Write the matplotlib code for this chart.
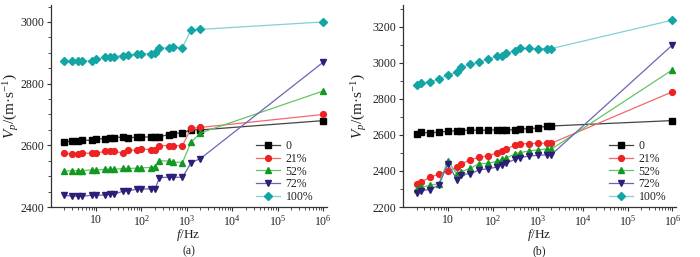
import matplotlib
matplotlib.use("Agg")
import math
import matplotlib.pyplot as plt
from matplotlib.ticker import FixedLocator, FuncFormatter, LogLocator, NullFormatter, MultipleLocator

plt.rcParams['font.family'] = ['Liberation Serif', 'DejaVu Serif']
plt.rcParams['mathtext.fontset'] = 'custom'
plt.rcParams['mathtext.rm'] = 'Liberation Serif'
plt.rcParams['mathtext.it'] = 'Liberation Serif:italic'

# ---------- data: panel (a) ----------
freq_a = [2, 3, 4, 5, 8, 10, 16, 20, 25, 40, 50, 80, 100, 160, 200, 250, 400, 500, 800, 1250, 2000, 1e6]
a_0 = [2610, 2615, 2613, 2617, 2616, 2620, 2622, 2624, 2625, 2627, 2625, 2626, 2627, 2627, 2627, 2628, 2635, 2638, 2641, 2650, 2650, 2680]
a_21 = [2574, 2572, 2571, 2574, 2575, 2575, 2580, 2580, 2580, 2575, 2585, 2584, 2588, 2586, 2586, 2599, 2599, 2599, 2599, 2655, 2658, 2700]
a_52 = [2516, 2518, 2518, 2518, 2520, 2520, 2522, 2523, 2522, 2525, 2525, 2526, 2527, 2528, 2530, 2550, 2549, 2546, 2544, 2611, 2640, 2776]
a_72 = [2438, 2435, 2435, 2435, 2438, 2438, 2439, 2441, 2441, 2452, 2452, 2458, 2458, 2459, 2459, 2495, 2497, 2497, 2496, 2544, 2557, 2869]
a_100 = [2875, 2873, 2874, 2874, 2874, 2880, 2885, 2888, 2888, 2891, 2892, 2895, 2897, 2897, 2899, 2915, 2916, 2918, 2917, 2975, 2976, 3000]

# ---------- data: panel (b) ----------
freq_b = [2, 2.5, 4, 6.3, 10, 16, 20, 31.5, 50, 80, 125, 160, 200, 315, 400, 630, 1000, 1600, 2000, 1e6]
b_0 = [2607, 2615, 2611, 2617, 2620, 2624, 2624, 2628, 2626, 2626, 2630, 2630, 2630, 2628, 2633, 2635, 2639, 2650, 2650, 2680]
b_21 = [2328, 2339, 2365, 2383, 2399, 2422, 2439, 2463, 2476, 2485, 2502, 2513, 2524, 2543, 2552, 2552, 2554, 2554, 2554, 2840]
b_52 = [2300, 2309, 2320, 2330, 2456, 2381, 2396, 2415, 2441, 2443, 2454, 2465, 2472, 2496, 2502, 2511, 2518, 2521, 2521, 2962]
b_72 = [2280, 2291, 2297, 2322, 2440, 2350, 2380, 2385, 2406, 2413, 2422, 2433, 2444, 2465, 2474, 2483, 2487, 2490, 2490, 3100]
b_100 = [2878, 2888, 2897, 2909, 2935, 2948, 2976, 2992, 3006, 3022, 3038, 3041, 3055, 3067, 3081, 3081, 3079, 3080, 3080, 3238]

labels = ["0", "21%", "52%", "72%", "100%"]
markers = ["s", "o", "^", "v", "D"]
marker_colors = ["#000000", "#ee2222", "#119922", "#2b1f78", "#13a5a5"]
line_colors = ["#444444", "#f06a6a", "#66c466", "#6e64b4", "#80d2d2"]
msizes = [4.0, 4.2, 4.8, 4.8, 4.2]

fig = plt.figure(figsize=(7.0, 2.57), dpi=100)

def dec_fmt(v, pos):
    if v <= 0:
        return ""
    n = int(round(math.log10(v)))
    if n == 0:
        return ""
    if n == 1:
        return "10"
    return r"$10^{%d}$" % n

def draw(ax, freq, series, ylim, ymaj, ymin, sub, leg_anchor, ylab_x):
    for s, lab, mk, mc, lc, ms in zip(series, labels, markers, marker_colors, line_colors, msizes):
        ax.plot(freq, s, color=lc, lw=0.9, marker=mk, markersize=ms,
                markerfacecolor=mc, markeredgecolor=mc, label=lab)
    ax.set_xscale("log")
    ax.set_xlim(1, 1.2e6)
    ax.set_ylim(*ylim)
    ax.xaxis.set_major_locator(FixedLocator([1e1, 1e2, 1e3, 1e4, 1e5, 1e6]))
    ax.xaxis.set_major_formatter(FuncFormatter(dec_fmt))
    ax.xaxis.set_minor_locator(LogLocator(base=10, subs=range(2, 10), numticks=20))
    ax.xaxis.set_minor_formatter(NullFormatter())
    ax.yaxis.set_major_locator(MultipleLocator(ymaj))
    ax.yaxis.set_minor_locator(MultipleLocator(ymin))
    for sp in ("top", "right"):
        ax.spines[sp].set_visible(False)
    for sp in ("left", "bottom"):
        ax.spines[sp].set_linewidth(0.9)
        ax.spines[sp].set_color("#333333")
    ax.tick_params(which="major", direction="out", length=3.2, width=0.8, labelsize=8.5,
                   colors="#333333", labelcolor="#222222", pad=1.5)
    ax.tick_params(which="minor", direction="out", length=2, width=0.6, colors="#333333")
    ax.set_xlabel(r"$f$/Hz", fontsize=9.5, color="#222222")
    ax.xaxis.set_label_coords(0.5, -0.14)
    ax.xaxis.label.set_va("center")
    ax.set_ylabel(r"$V_p$/(m·s$^{-1}$)", fontsize=11, color="#222222")
    ax.yaxis.set_label_coords(ylab_x, 0.5)
    ax.yaxis.label.set_va("center")
    ax.text(0.5, -0.218, sub, transform=ax.transAxes, ha="center", va="center",
            fontsize=8.5, color="#222222")
    leg = ax.legend(loc="upper left", bbox_to_anchor=leg_anchor, frameon=False, fontsize=8.5,
                    handlelength=2.0, handletextpad=0.5, labelspacing=0.05, borderpad=0,
                    borderaxespad=0)
    for t in leg.get_texts():
        t.set_color("#222222")

ax1 = fig.add_axes([50.6 / 700, 1 - 207 / 257, 276 / 700, 202 / 257])
draw(ax1, freq_a, [a_0, a_21, a_52, a_72, a_100], (2400, 3055), 200, 50, "(a)", (0.745, 0.33), -0.145)

ax2 = fig.add_axes([403 / 700, 1 - 207 / 257, 273 / 700, 202 / 257])
draw(ax2, freq_b, [b_0, b_21, b_52, b_72, b_100], (2200, 3322), 200, 100, "(b)", (0.755, 0.33), -0.16)

fig.savefig("out.png", dpi=100)
